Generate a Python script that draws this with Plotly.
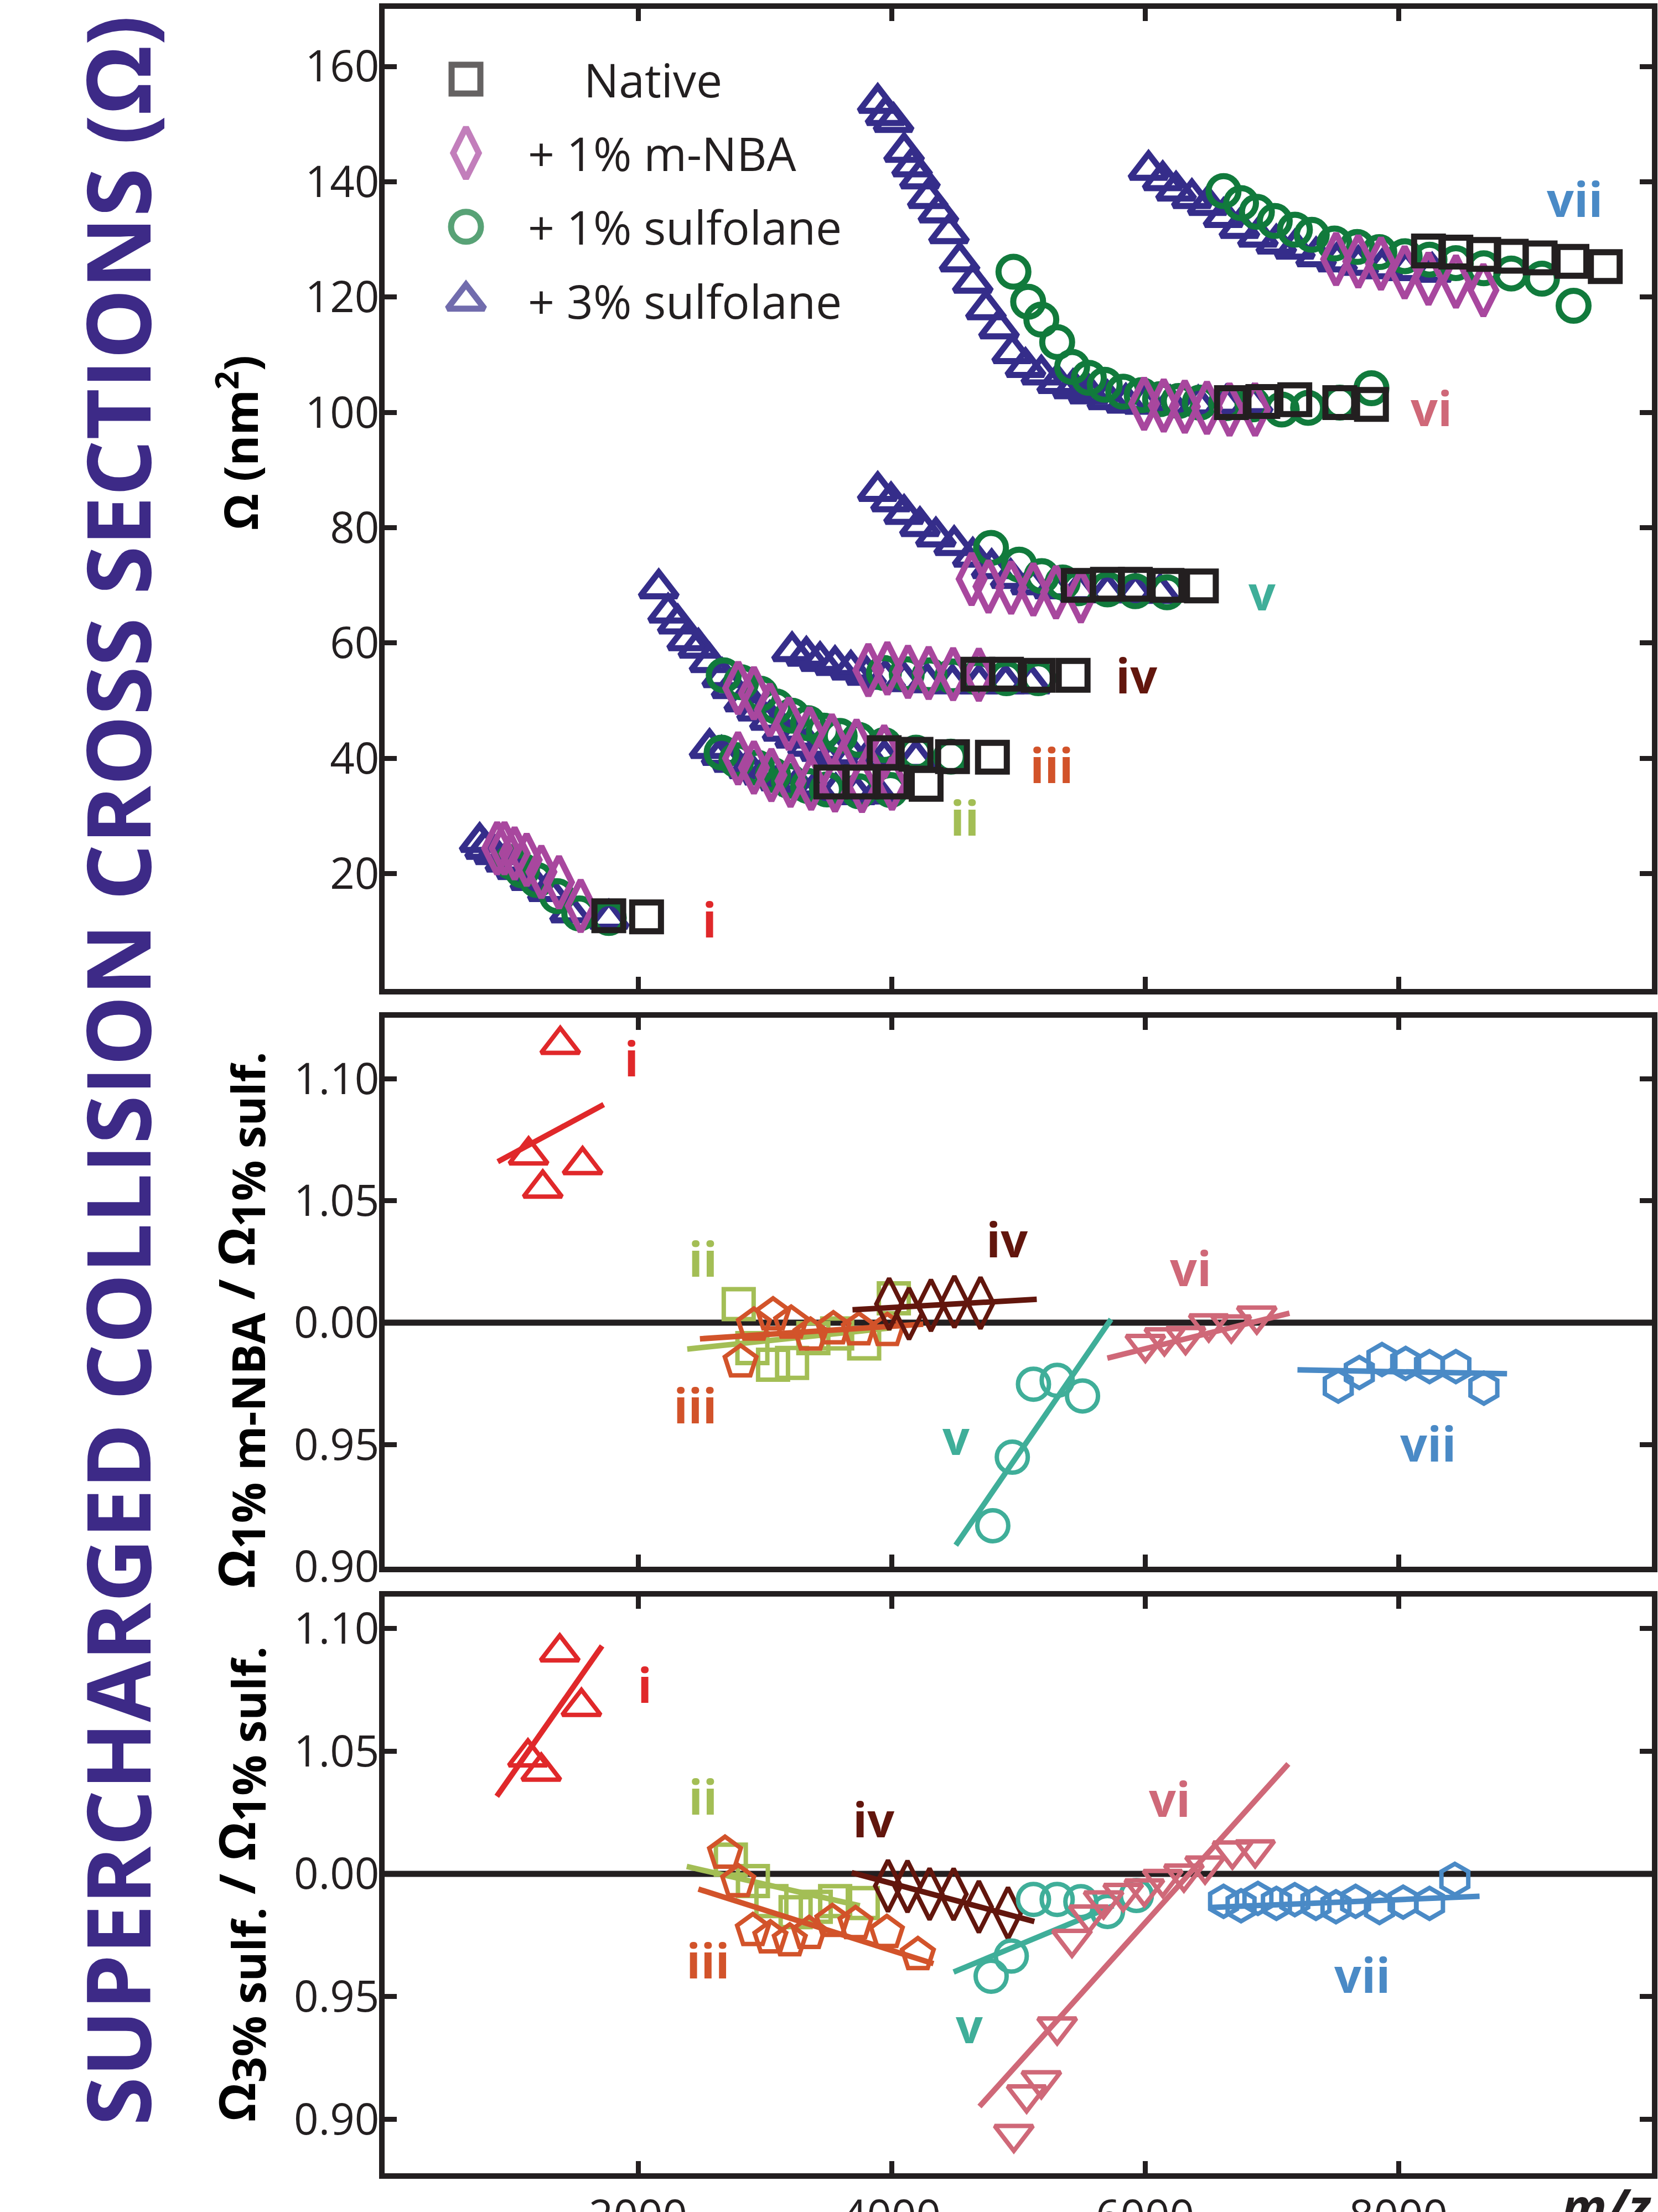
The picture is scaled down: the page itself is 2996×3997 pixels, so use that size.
import plotly.graph_objects as go

# ---------------- colours ----------------
INK = "#231f20"
C_NATIVE = "#231f20"
C_MNBA = "#a8479e"
C_SULF1 = "#117a3c"
C_SULF3 = "#352d8a"
C_TITLE = "#3d2a87"
GROUP_COLORS = {"i": "#e0282a", "ii": "#a3be55", "iii": "#d2532a", "iv": "#62160d",
                "v": "#3fae99", "vi": "#cf6878", "vii": "#4a8ac6"}

# ---------------- top panel: collision cross sections (nm^2) vs m/z ----------------
# group i
I_NAT_X = [1769, 2067]
I_NAT_Y = [12.7, 12.5]
I_NBA_X = [888, 946, 1026, 1121, 1237, 1376, 1547]
I_NBA_Y = [24.4, 24.4, 23.5, 22.4, 20.3, 18.5, 14.4]
I_S1_X = [1001, 1084, 1201, 1361, 1536, 1769]
I_S1_Y = [22.0, 20.6, 18.9, 16.1, 13.1, 12.3]
I_S3_X = [750, 793, 866, 953, 1041, 1150, 1288, 1463, 1769]
I_S3_Y = [25.5, 24.3, 23.4, 22.1, 20.8, 18.9, 17.0, 13.3, 12.2]
# group ii
II_NAT_X = [3521, 3760, 4005, 4273]
II_NAT_Y = [35.9, 35.9, 35.9, 35.5]
II_NBA_X = [2789, 2914, 3052, 3203, 3366, 3554, 3767, 4004]
II_NBA_Y = [40.0, 38.4, 37.1, 36.1, 35.6, 35.3, 35.2, 35.6]
II_S1_X = [2659, 2777, 2939, 3065, 3190, 3341, 3491, 3742, 3992]
II_S1_Y = [41.0, 39.7, 38.4, 37.1, 36.1, 35.2, 34.6, 34.3, 34.5]
II_S3_X = [2564, 2659, 2750, 2870, 2990, 3120, 3260, 3400, 3560, 3720, 3890]
II_S3_Y = [41.8, 40.6, 39.4, 38.3, 37.2, 36.2, 35.3, 34.6, 34.1, 33.8, 33.9]
# group iii
III_NAT_X = [3942, 4193, 4481, 4796]
III_NAT_Y = [41.0, 40.7, 40.3, 40.2]
III_NBA_X = [2790, 2914, 3040, 3190, 3353, 3529, 3724, 3942]
III_NBA_Y = [52.2, 51.3, 48.4, 46.0, 44.3, 43.1, 42.2, 41.2]
III_S1_X = [2676, 2813, 2966, 3090, 3215, 3341, 3466, 3591, 3742, 3942, 4193, 4468]
III_S1_Y = [54.4, 53.2, 51.2, 49.0, 47.4, 46.1, 44.8, 43.9, 43.2, 42.3, 41.0, 40.3]
III_S3_X = [2163, 2237, 2313, 2388, 2476, 2564, 2664, 2738, 2838, 2939, 3040, 3140,
            3240, 3341, 3441, 3567, 3691, 3817, 3943, 4193]
III_S3_Y = [69.5, 65.3, 63.4, 60.5, 59.2, 56.7, 54.1, 52.2, 49.9, 48.3, 46.7, 44.8,
            43.6, 42.2, 41.3, 40.7, 40.4, 40.1, 39.9, 39.9]
# group iv
IV_NAT_X = [4681, 4907, 5158, 5433]
IV_NAT_Y = [54.6, 54.6, 54.4, 54.4]
IV_NBA_X = [3817, 3967, 4130, 4293, 4486, 4689]
IV_NBA_Y = [55.3, 55.6, 55.0, 54.8, 54.6, 54.5]
IV_S1_X = [3940, 4120, 4300, 4480, 4681, 4907, 5158]
IV_S1_Y = [54.8, 54.6, 54.4, 54.2, 54.0, 53.9, 53.9]
IV_S3_X = [3215, 3328, 3436, 3554, 3679, 3800, 3950, 4100, 4280, 4480, 4690, 4900, 5100]
IV_S3_Y = [58.6, 57.8, 56.9, 56.2, 55.4, 54.5, 53.8, 53.4, 53.2, 53.0, 53.0, 53.0, 53.0]
# group v
V_NAT_X = [5474, 5704, 5924, 6174, 6445]
V_NAT_Y = [70.0, 70.2, 70.2, 70.0, 69.9]
V_NBA_X = [4632, 4765, 4944, 5119, 5298, 5494]
V_NBA_Y = [71.1, 69.8, 69.6, 69.3, 68.8, 68.1]
V_S1_X = [4785, 5007, 5185, 5350, 5474, 5704, 5924, 6174]
V_S1_Y = [76.5, 73.6, 71.6, 70.5, 69.5, 69.3, 69.0, 68.8]
V_S3_X = [3891, 3996, 4099, 4224, 4350, 4494, 4641, 4790, 4940, 5100, 5280, 5480, 5704, 5924, 6120]
V_S3_Y = [86.4, 84.6, 82.4, 80.3, 78.5, 77.0, 75.0, 73.0, 71.3, 70.2, 69.5, 69.0, 68.8, 68.8, 68.7]
# group vi
VI_NAT_X = [6682, 6930, 7182, 7537, 7787]
VI_NAT_Y = [101.7, 101.9, 102.2, 101.7, 101.4]
VI_NBA_X = [5993, 6148, 6314, 6489, 6667, 6869]
VI_NBA_Y = [101.5, 101.2, 101.0, 100.8, 100.5, 100.5]
VI_S1_X = [4962, 5078, 5182, 5307, 5425, 5557, 5682, 5828, 5974, 6119, 6266, 6432,
           6640, 6848, 7079, 7287, 7537, 7787]
VI_S1_Y = [124.4, 119.2, 116.1, 112.2, 107.9, 106.0, 104.8, 103.6, 103.0, 102.3, 102.0, 101.7,
           101.6, 101.4, 100.5, 100.8, 101.7, 104.2]
VI_S3_X = [3891, 3953, 4016, 4099, 4162, 4224, 4286, 4370, 4453, 4537, 4641, 4745, 4848,
           4952, 5057, 5182, 5307, 5432, 5557, 5703, 5849, 5990, 6200, 6420, 6640, 6850]
VI_S3_Y = [153.7, 151.6, 150.4, 145.2, 142.7, 140.6, 137.2, 134.7, 131.1, 126.2, 122.5, 117.9, 114.6,
           110.3, 107.9, 106.6, 105.1, 104.2, 103.3, 102.3, 101.7, 101.5, 101.4, 101.4, 101.5, 101.6]
# group vii
VII_NAT_X = [8237, 8453, 8673, 8890, 9118, 9369, 9632]
VII_NAT_Y = [128.0, 127.8, 127.4, 127.1, 126.8, 126.2, 125.3]
VII_NBA_X = [7508, 7683, 7862, 8049, 8237, 8454, 8670]
VII_NBA_Y = [126.6, 126.2, 125.8, 124.3, 123.2, 122.7, 121.2]
VII_S1_X = [6620, 6758, 6883, 7024, 7183, 7316, 7495, 7674, 7849, 8049, 8245, 8453, 8673, 8890, 9132, 9382]
VII_S1_Y = [138.4, 136.3, 134.8, 133.2, 131.7, 130.8, 129.3, 128.7, 127.8, 127.1, 126.5, 125.9, 125.0,
            124.1, 123.2, 118.5]
VII_S3_X = [6028, 6140, 6245, 6370, 6495, 6620, 6745, 6891, 7036, 7183, 7350, 7516, 7683, 7870, 8057, 8266]
VII_S3_Y = [142.1, 140.3, 138.5, 137.2, 136.0, 133.9, 132.0, 130.5, 129.3, 128.4, 127.1, 126.2, 125.6,
            125.0, 124.7, 124.4]

# ---------------- middle panel: ratio 1% m-NBA / 1% sulfolane ----------------
R1_I_X = [1136, 1248, 1386, 1562]
R1_I_Y = [1.0687, 1.0551, 1.114, 1.0647]
R1_II_X = [2794, 2902, 3065, 3215, 3383, 3571, 3784, 4018]
R1_II_Y = [1.0076, 0.9896, 0.9828, 0.9835, 0.9937, 0.9956, 0.9915, 1.0100]
R1_III_X = [2809, 2914, 3065, 3208, 3361, 3541, 3742, 3967]
R1_III_Y = [0.9839, 0.9990, 1.0032, 0.9998, 0.9949, 0.9975, 0.9971, 0.9968]
R1_IV_X = [3981, 4138, 4311, 4496, 4702]
R1_IV_Y = [1.0077, 1.0037, 1.0071, 1.0086, 1.0081]
R1_V_X = [4799, 4953, 5120, 5307, 5507]
R1_V_Y = [0.9168, 0.9449, 0.9748, 0.9764, 0.9700]
R1_VI_X = [6003, 6153, 6320, 6503, 6681, 6882]
R1_VI_Y = [0.9912, 0.9939, 0.9944, 0.9996, 0.9992, 1.0028]
R1_VII_X = [7525, 7691, 7870, 8057, 8245, 8453, 8674]
R1_VII_Y = [0.9740, 0.9796, 0.9849, 0.9833, 0.9820, 0.9820, 0.9732]
# linear-fit end points (m/z, ratio)
FIT1_I = ([893, 1729], [1.0660, 1.0894])
FIT1_II = ([2388, 4000], [0.9892, 0.9979])
FIT1_III = ([2488, 4250], [0.9934, 0.9994])
FIT1_IV = ([3692, 5146], [1.0053, 1.0096])
FIT1_V = ([4507, 5732], [0.9088, 1.0014])
FIT1_VI = ([5703, 7140], [0.9855, 1.0039])
FIT1_VII = ([7203, 8857], [0.9807, 0.9791])

# ---------------- bottom panel: ratio 3% sulfolane / 1% sulfolane ----------------
R3_I_X = [1131, 1236, 1382, 1553]
R3_I_Y = [1.0476, 1.0418, 1.0904, 1.0682]
R3_II_X = [2732, 2906, 3052, 3243, 3402, 3555, 3773]
R3_II_Y = [1.0058, 0.9971, 0.9889, 0.9844, 0.9866, 0.9889, 0.9881]
R3_III_X = [2686, 2790, 2906, 3044, 3197, 3350, 3533, 3716, 3963, 4208]
R3_III_Y = [1.0084, 0.9968, 0.9769, 0.9739, 0.9727, 0.9757, 0.9806, 0.9797, 0.9761, 0.9671]
R3_IV_X = [3972, 4126, 4300, 4490, 4689, 4919]
R3_IV_Y = [0.9951, 0.9949, 0.9918, 0.9917, 0.9866, 0.9840]
R3_V_X = [4786, 4945, 5120, 5307, 5494, 5704, 5932]
R3_V_Y = [0.9583, 0.9665, 0.9896, 0.9896, 0.9887, 0.9847, 0.9912]
R3_VI_X = [4965, 5066, 5182, 5307, 5424, 5557, 5673, 5828, 5995, 6140, 6307, 6474, 6690, 6869]
R3_VI_Y = [0.8939, 0.9100, 0.9158, 0.9377, 0.9734, 0.9833, 0.9891, 0.9921, 0.9940, 0.9978,
           1.0000, 1.0033, 1.0094, 1.0099]
R3_VII_X = [6620, 6758, 6891, 7037, 7182, 7349, 7507, 7662, 7850, 8037, 8245, 8445]
R3_VII_Y = [0.9888, 0.9870, 0.9900, 0.9880, 0.9895, 0.9880, 0.9866, 0.9888, 0.9863, 0.9885,
            0.9880, 0.9978]
FIT3_I = ([885, 1716], [1.0316, 1.0929])
FIT3_II = ([2384, 3750], [1.0030, 0.9870])
FIT3_III = ([2476, 4331], [0.9938, 0.9634])
FIT3_IV = ([3686, 5127], [1.0005, 0.9806])
FIT3_V = ([4490, 5750], [0.9600, 0.9870])
FIT3_VI = ([4694, 7131], [0.9052, 1.0448])
FIT3_VII = ([6516, 8640], [0.9863, 0.9909])

# ---------------- axes / labels ----------------
X_TICKS = [2000, 4000, 6000, 8000]
X_TICK_TEXT = ["2000", "4000", "6000", "8000"]
TOP_Y_TICKS = [20, 40, 60, 80, 100, 120, 140, 160]
RATIO_TICKS = [0.90, 0.95, 1.00, 1.05, 1.10]
RATIO_TICK_TEXT = ["0.90", "0.95", "0.00", "1.05", "1.10"]
LEGEND_LABELS = ["Native", "+ 1% m-NBA", "+ 1% sulfolane", "+ 3% sulfolane"]

# label anchor positions (data coordinates) for the group numerals
TOP_LABELS = [("i", 2564, 12.1), ("ii", 4577, 29.8), ("iii", 5266, 38.9), ("iv", 5932, 54.5),
              ("v", 6924, 68.9), ("vi", 8258, 100.8), ("vii", 9391, 137.1)]
MID_LABELS = [("i", 1947, 1.1085), ("ii", 2511, 1.0265), ("iii", 2452, 0.9664), ("iv", 4912, 1.0345),
              ("v", 4507, 0.9534), ("vi", 6361, 1.0225), ("vii", 8232, 0.9506)]
BOT_LABELS = [("i", 2051, 1.0773), ("ii", 2511, 1.0316), ("iii", 2552, 0.9649), ("iv", 3856, 1.0225),
              ("v", 4612, 0.9385), ("vi", 6194, 1.0308), ("vii", 7716, 0.9591)]

FONT = "Open Sans"
W, H = 2996, 3997
ML, MR, MT, MB = 695, 11, 16, 70

fig = go.Figure()

TOP_MARKER_LW = 11
LOW_MARKER_LW = 8
FIT_LW = 10


def add_top(xs, ys, symbol, color, size):
    fig.add_trace(go.Scatter(x=xs, y=ys, mode="markers", xaxis="x", yaxis="y",
                             marker=dict(symbol=symbol, size=size, color=color,
                                         line=dict(color=color, width=TOP_MARKER_LW)),
                             showlegend=False, hoverinfo="skip"))


S3 = [(I_S3_X, I_S3_Y), (II_S3_X, II_S3_Y), (III_S3_X, III_S3_Y), (IV_S3_X, IV_S3_Y),
      (V_S3_X, V_S3_Y), (VI_S3_X, VI_S3_Y), (VII_S3_X, VII_S3_Y)]
S1 = [(I_S1_X, I_S1_Y), (II_S1_X, II_S1_Y), (III_S1_X, III_S1_Y), (IV_S1_X, IV_S1_Y),
      (V_S1_X, V_S1_Y), (VI_S1_X, VI_S1_Y), (VII_S1_X, VII_S1_Y)]
NBA = [(I_NBA_X, I_NBA_Y), (II_NBA_X, II_NBA_Y), (III_NBA_X, III_NBA_Y), (IV_NBA_X, IV_NBA_Y),
       (V_NBA_X, V_NBA_Y), (VI_NBA_X, VI_NBA_Y), (VII_NBA_X, VII_NBA_Y)]
NAT = [(I_NAT_X, I_NAT_Y), (II_NAT_X, II_NAT_Y), (III_NAT_X, III_NAT_Y), (IV_NAT_X, IV_NAT_Y),
       (V_NAT_X, V_NAT_Y), (VI_NAT_X, VI_NAT_Y), (VII_NAT_X, VII_NAT_Y)]

SZ_S3, SZ_S1, SZ_NBA, SZ_NAT = 58, 54, 66, 52

for xs, ys in S3:
    add_top(xs, ys, "triangle-up-open", C_SULF3, SZ_S3)
for xs, ys in S1:
    add_top(xs, ys, "circle-open", C_SULF1, SZ_S1)
for xs, ys in NBA:
    add_top(xs, ys, "diamond-tall-open", C_MNBA, SZ_NBA)
for xs, ys in NAT:
    add_top(xs, ys, "square-open", C_NATIVE, SZ_NAT)

# legend (drawn by hand so the symbols keep their plotted size)
LEG_X = 642
LEG_ROW0 = 157.8
LEG_STEP = 12.8
leg_y = [LEG_ROW0 - k * LEG_STEP for k in range(4)]
fig.add_trace(go.Scatter(x=[LEG_X] * 4, y=leg_y, mode="markers", xaxis="x", yaxis="y",
                         marker=dict(symbol=["square-open", "diamond-tall-open", "circle-open", "triangle-up-open"],
                                     size=[SZ_NAT, SZ_NBA, SZ_S1, SZ_S3], color=[C_NATIVE, C_MNBA, C_SULF1, C_SULF3],
                                     line=dict(width=TOP_MARKER_LW)),
                         showlegend=False, hoverinfo="skip"))

annotations = []
for k, lab in enumerate(LEGEND_LABELS):
    annotations.append(dict(x=1563 if k == 0 else 1122, y=leg_y[k], xref="x", yref="y", text=lab,
                            showarrow=False, xanchor="left", yanchor="middle",
                            font=dict(family=FONT, size=84, color=INK)))


def add_ratio(xs, ys, fit, symbol, color, size, xa, ya):
    fig.add_trace(go.Scatter(x=fit[0], y=fit[1], mode="lines", xaxis=xa, yaxis=ya,
                             line=dict(color=color, width=FIT_LW), showlegend=False, hoverinfo="skip"))
    fig.add_trace(go.Scatter(x=xs, y=ys, mode="markers", xaxis=xa, yaxis=ya,
                             marker=dict(symbol=symbol, size=size, color=color,
                                         line=dict(width=LOW_MARKER_LW)),
                             showlegend=False, hoverinfo="skip"))


SYMBOLS = {"i": ("triangle-up-open", 60), "ii": ("square-open", 54), "iii": ("pentagon-open", 60),
           "iv": ("diamond-tall-open", 66), "v": ("circle-open", 56), "vi": ("triangle-down-open", 60),
           "vii": ("hexagon-open", 56)}

MID = [("ii", R1_II_X, R1_II_Y, FIT1_II), ("iii", R1_III_X, R1_III_Y, FIT1_III), ("i", R1_I_X, R1_I_Y, FIT1_I),
       ("iv", R1_IV_X, R1_IV_Y, FIT1_IV), ("v", R1_V_X, R1_V_Y, FIT1_V), ("vi", R1_VI_X, R1_VI_Y, FIT1_VI),
       ("vii", R1_VII_X, R1_VII_Y, FIT1_VII)]
BOT = [("ii", R3_II_X, R3_II_Y, FIT3_II), ("iii", R3_III_X, R3_III_Y, FIT3_III), ("i", R3_I_X, R3_I_Y, FIT3_I),
       ("iv", R3_IV_X, R3_IV_Y, FIT3_IV), ("v", R3_V_X, R3_V_Y, FIT3_V), ("vi", R3_VI_X, R3_VI_Y, FIT3_VI),
       ("vii", R3_VII_X, R3_VII_Y, FIT3_VII)]
for g, xs, ys, fit in MID:
    add_ratio(xs, ys, fit, SYMBOLS[g][0], GROUP_COLORS[g], SYMBOLS[g][1], "x2", "y2")
for g, xs, ys, fit in BOT:
    add_ratio(xs, ys, fit, SYMBOLS[g][0], GROUP_COLORS[g], SYMBOLS[g][1], "x3", "y3")

for labels, xr, yr in [(TOP_LABELS, "x", "y"), (MID_LABELS, "x2", "y2"), (BOT_LABELS, "x3", "y3")]:
    for g, lx, ly in labels:
        annotations.append(dict(x=lx, y=ly, xref=xr, yref=yr, text="<b>%s</b>" % g, showarrow=False,
                                xanchor="center", yanchor="middle",
                                font=dict(family=FONT, size=86, color=GROUP_COLORS[g])))

# axis titles and the big side title
PW = W - ML - MR
PH = H - MT - MB


def px_x(p):
    return (p - ML) / PW


def px_y(p):
    return (H - MB - p) / PH


SUB = "<sub><span style='font-size:82px'>%s</span></sub>"
annotations += [
    dict(x=px_x(430), y=px_y(800), xref="paper", yref="paper", text="<b>Ω (nm<sup>2</sup>)</b>",
         textangle=-90, showarrow=False, xanchor="center", yanchor="middle",
         font=dict(family=FONT, size=84, color="black")),
    dict(x=px_x(434), y=px_y(2385), xref="paper", yref="paper",
         text="<b>Ω" + SUB % "1% m-NBA" + " / Ω" + SUB % "1% sulf." + "</b>",
         textangle=-90, showarrow=False, xanchor="center", yanchor="middle",
         font=dict(family=FONT, size=90, color="black")),
    dict(x=px_x(434), y=px_y(3405), xref="paper", yref="paper",
         text="<b>Ω" + SUB % "3% sulf." + " / Ω" + SUB % "1% sulf." + "</b>",
         textangle=-90, showarrow=False, xanchor="center", yanchor="middle",
         font=dict(family=FONT, size=90, color="black")),
    dict(x=px_x(210), y=px_y(1935), xref="paper", yref="paper",
         text="<b>SUPERCHARGED COLLISION CROSS SECTIONS (Ω)</b>",
         textangle=-90, showarrow=False, xanchor="center", yanchor="middle",
         font=dict(family=FONT, size=160, color=C_TITLE)),
    dict(x=px_x(2820), y=px_y(3985), xref="paper", yref="paper", text="<b><i>m/z</i></b>",
         showarrow=False, xanchor="left", yanchor="middle",
         font=dict(family=FONT, size=90, color=INK)),
]

AX = dict(showline=True, linewidth=10, linecolor=INK, mirror="ticks", ticks="inside",
          ticklen=22, tickwidth=9, tickcolor=INK, showgrid=False, zeroline=False,
          automargin=False, tickfont=dict(family=FONT, size=78, color=INK))

top_dom = [px_y(1787), px_y(16)]
mid_dom = [px_y(2831), px_y(1839)]
bot_dom = [px_y(3927), px_y(2885)]
Y_STANDOFF = -16

fig.update_layout(
    width=W, height=H, margin=dict(l=ML, r=MR, t=MT, b=MB),
    paper_bgcolor="white", plot_bgcolor="white", showlegend=False,
    xaxis=dict(AX, domain=[0, 1], range=[0, 10000], tickvals=X_TICKS, showticklabels=False, anchor="y"),
    xaxis2=dict(AX, domain=[0, 1], range=[0, 10000], tickvals=X_TICKS, showticklabels=False, anchor="y2",
                matches="x"),
    xaxis3=dict(AX, domain=[0, 1], range=[0, 10000], tickvals=X_TICKS, ticktext=X_TICK_TEXT, anchor="y3",
                matches="x", ticklabelstandoff=0),
    yaxis=dict(AX, domain=top_dom, range=[0, 170], tickvals=TOP_Y_TICKS, anchor="x",
               ticklabelstandoff=Y_STANDOFF),
    yaxis2=dict(AX, domain=mid_dom, range=[0.90, 1.125], tickvals=RATIO_TICKS, ticktext=RATIO_TICK_TEXT,
                anchor="x2", ticklabelstandoff=Y_STANDOFF),
    yaxis3=dict(AX, domain=bot_dom, range=[0.878, 1.113], tickvals=RATIO_TICKS, ticktext=RATIO_TICK_TEXT,
                anchor="x3", ticklabelstandoff=Y_STANDOFF),
    annotations=annotations,
    shapes=[
        dict(type="line", xref="x2 domain", yref="y2", x0=0, x1=1, y0=1.0, y1=1.0,
             line=dict(color=INK, width=11), layer="below"),
        dict(type="line", xref="x3 domain", yref="y3", x0=0, x1=1, y0=1.0, y1=1.0,
             line=dict(color=INK, width=11), layer="below"),
    ],
)

fig.write_html("out.html", config={"displayModeBar": False},
               post_script="document.body.style.margin='0';document.body.style.overflow='hidden';")
